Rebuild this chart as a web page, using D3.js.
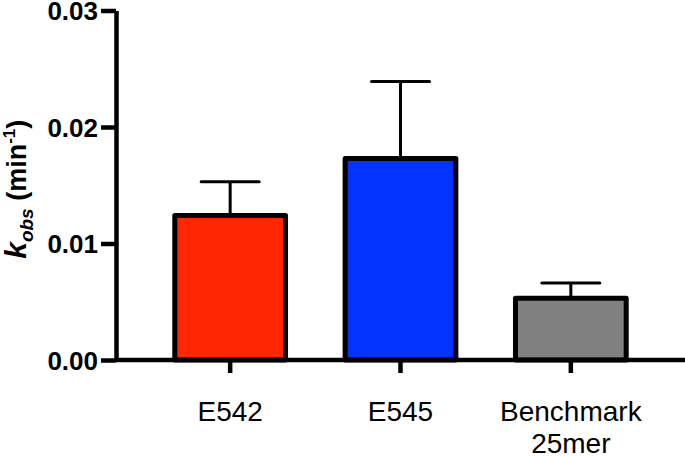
<!DOCTYPE html>
<html>
<head>
<meta charset="utf-8">
<script src="https://cdn.jsdelivr.net/npm/d3@7"></script>
<style>
  html, body { margin: 0; padding: 0; background: #fff; }
  svg { display: block; font-family: "Liberation Sans", Arial, sans-serif; }
  .axis .domain, .axis line { stroke: #000; }
</style>
</head>
<body>
<svg id="chart" width="685" height="456"></svg>
<script>
const categories = ["E542", "E545", "Benchmark\n25mer"];
const means = [0.0124, 0.0173, 0.0053];
const errors = [0.0029, 0.0066, 0.0013];   // upper SD
const colors = ["#ff2600", "#0433ff", "#808080"];
const yTicks = [0, 0.01, 0.02, 0.03];

const W = 685, H = 456;
const M = { top: 10.5, left: 116, bottom: 96 };
const plotH = H - M.top - M.bottom;

const svg = d3.select("#chart");
const g = svg.append("g").attr("transform", `translate(${M.left},${M.top})`);

const x = d3.scaleBand()
  .domain(categories)
  .range([145 - M.left, 656 - M.left])
  .paddingInner(0.35)
  .paddingOuter(0.175);

const y = d3.scaleLinear().domain([0, 0.03]).range([plotH, 0]);

// bars
g.selectAll("rect.bar").data(categories).join("rect")
  .attr("class", "bar")
  .attr("x", d => x(d))
  .attr("width", x.bandwidth())
  .attr("y", (d, i) => y(means[i]))
  .attr("height", (d, i) => y(0) - y(means[i]))
  .attr("fill", (d, i) => colors[i])
  .attr("stroke", "#000").attr("stroke-width", 5)
  .attr("stroke-linejoin", "round");

// error bars (upper only), drawn behind the bar top
const capW = 58;
const eb = g.selectAll("g.err").data(categories).join("g").attr("class", "err");
eb.append("line")
  .attr("x1", d => x(d) + x.bandwidth() / 2).attr("x2", d => x(d) + x.bandwidth() / 2)
  .attr("y1", (d, i) => y(means[i]) - 2).attr("y2", (d, i) => y(means[i] + errors[i]))
  .attr("stroke", "#000").attr("stroke-width", 3);
eb.append("line")
  .attr("x1", d => x(d) + x.bandwidth() / 2 - capW / 2).attr("x2", d => x(d) + x.bandwidth() / 2 + capW / 2)
  .attr("y1", (d, i) => y(means[i] + errors[i])).attr("y2", (d, i) => y(means[i] + errors[i]))
  .attr("stroke", "#000").attr("stroke-width", 3).attr("stroke-linecap", "round");

// y axis
const yAxis = g.append("g").attr("class", "axis")
  .call(d3.axisLeft(y).tickValues(yTicks).tickFormat(d3.format(".2f")).tickSize(15).tickSizeOuter(0).tickPadding(3));
yAxis.select(".domain").attr("stroke-width", 4.5);
yAxis.selectAll(".tick line").attr("stroke-width", 4.5);
yAxis.selectAll(".tick text")
  .attr("fill", "#000").style("font-size", "26px").style("font-weight", "bold")
  .attr("dy", "0.36em");

// x axis
const xAxis = g.append("g").attr("class", "axis")
  .attr("transform", `translate(0,${plotH})`)
  .call(d3.axisBottom(x).tickSize(13).tickSizeOuter(0));
xAxis.select(".domain").attr("d", `M0,0H${W - M.left}`).attr("stroke-width", 4.5);
xAxis.selectAll(".tick line").attr("stroke-width", 4.5);
xAxis.selectAll(".tick text").each(function(d) {
  const t = d3.select(this).text(null)
    .attr("fill", "#000").style("font-size", "28px")
    .attr("y", 0).attr("dy", 0);
  d.split("\n").forEach((s, i) => {
    t.append("tspan").attr("x", 0).attr("y", 61 + i * 32).text(s);
  });
});

// y label
const lab = svg.append("text")
  .attr("transform", `translate(26,${M.top + plotH / 2 + 4}) rotate(-90)`)
  .attr("text-anchor", "middle")
  .style("font-size", "27px").style("font-weight", "bold");
lab.append("tspan").style("font-style", "italic").style("font-size", "30px").text("k");
lab.append("tspan").style("font-style", "italic").style("font-size", "19px").attr("dy", 7).text("obs");
lab.append("tspan").attr("dy", -7).text(" (min");
lab.append("tspan").style("font-size", "17px").attr("dy", -11).text("-1");
lab.append("tspan").attr("dy", 11).text(")");
</script>
</body>
</html>
